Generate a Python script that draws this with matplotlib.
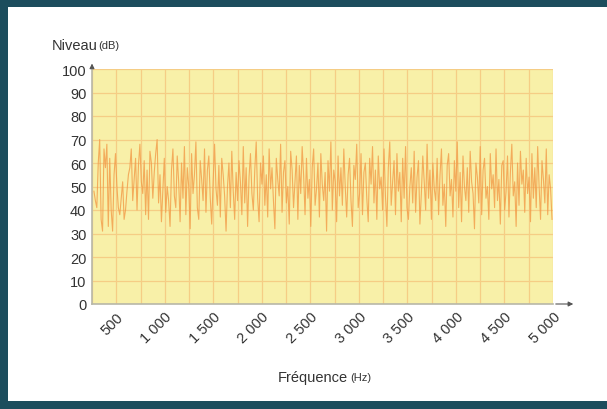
import matplotlib
matplotlib.use("Agg")
import matplotlib.pyplot as plt
import numpy as np

# levels (dB), roughly evenly spaced in frequency
niveau = [
    48, 44, 41, 60, 70, 36, 31, 66, 58, 68, 33, 62, 40, 31, 55, 64, 50, 41, 38, 45,
    52, 36, 40, 48, 55, 58, 66, 44, 53, 62, 40, 59, 68, 52, 47, 61, 38, 57, 36, 65,
    60, 45, 56, 64, 70, 43, 55, 35, 48, 62, 39, 50, 44, 33, 57, 66, 46, 41, 63, 52,
    35, 60, 45, 67, 38, 58, 50, 32, 64, 47, 55, 69, 41, 36, 61, 53, 44, 66, 39, 57,
    63, 45, 34, 52, 68, 49, 42, 59, 37, 62, 55, 46, 31, 50, 60, 41, 65, 48, 36, 56,
    44, 61, 52, 38, 67, 43, 58, 33, 54, 64, 47, 40, 57, 69, 45, 35, 60, 51, 63, 42,
    55, 37, 66, 49, 58, 44, 32, 62, 53, 46, 68, 39, 56, 61, 43, 50, 34, 65, 57, 41,
    52, 63, 36, 59, 47, 67, 55, 38, 62, 45, 53, 33, 58, 66, 42, 49, 60, 37, 64, 51,
    44, 56, 31, 61, 48, 69, 40, 57, 52, 35, 63, 46, 58, 42, 66, 50, 37, 55, 62, 44,
    33, 59, 53, 68, 41, 47, 64, 38, 56, 60, 45, 35, 62, 51, 67, 43, 57, 36, 63, 49,
    54, 40, 66, 46, 33, 58, 69, 42, 52, 61, 38, 64, 48, 56, 35, 62, 45, 67, 41, 36,
    50, 58, 43, 65, 39, 54, 61, 34, 47, 63, 52, 40, 68, 45, 57, 36, 60, 49, 44, 62,
    38, 55, 66, 42, 51, 33, 59, 64, 46, 53, 37, 61, 48, 69, 41, 56, 35, 63, 50, 44,
    58, 39, 65, 52, 47, 32, 60, 54, 43, 67, 38, 57, 62, 45, 50, 36, 64, 49, 55, 41,
    66, 44, 53, 34, 59, 61, 40, 48, 63, 37, 56, 68, 46, 52, 33, 60, 42, 65, 51, 57,
    39, 62, 47, 54, 35, 64, 45, 58, 41, 67, 50, 36, 61, 53, 43, 66, 38, 55, 49, 36,
]
freq_min, freq_max = 270, 4990
x_ticks = [500, 1000, 1500, 2000, 2500, 3000, 3500, 4000, 4500, 5000]
x_labels = ["500", "1 000", "1 500", "2 000", "2 500", "3 000", "3 500", "4 000", "4 500", "5 000"]
y_ticks = list(range(0, 101, 10))

plt.rcParams["font.family"] = ["Liberation Sans", "DejaVu Sans"]

fig = plt.figure(figsize=(6.07, 4.10), dpi=100)
fig.patch.set_facecolor("#1c4d5d")
# white card inside the dark frame
fig.patches.append(plt.Rectangle((8 / 607, 8 / 410), 1 - 8 / 607, 1 - 16 / 410,
                                 transform=fig.transFigure, facecolor="white",
                                 edgecolor="none", zorder=-10))

ax = fig.add_axes([92 / 607, 1 - 305 / 410, 461 / 607, 235 / 410])
ax.set_facecolor("#f8f0a8")

freq = np.linspace(freq_min, freq_max, len(niveau))
ax.plot(freq, niveau, color="#f29b48", lw=0.8, alpha=0.8, zorder=3)

ax.set_xlim(250, 5000)
ax.set_ylim(0, 100)
ax.set_yticks(y_ticks)
ax.set_yticklabels([str(v) for v in y_ticks], fontsize=10.5, color="#333333")
ax.set_xticks(x_ticks)
ax.set_xticklabels(x_labels, rotation=45, ha="right", rotation_mode="anchor",
                   fontsize=10.5, color="#333333")
ax.set_xticks(np.arange(250, 5001, 250), minor=True)
ax.tick_params(which="both", length=0, pad=4)
ax.grid(which="both", axis="x", color="#f5cd85", lw=0.9, zorder=1)
ax.grid(which="major", axis="y", color="#f5cd85", lw=0.9, zorder=1)
ax.set_axisbelow(True)

for s in ["top", "right"]:
    ax.spines[s].set_visible(False)
for s in ["left", "bottom"]:
    ax.spines[s].set_color("#b8b8a8")
    ax.spines[s].set_linewidth(1.2)

# axis arrows
ax.annotate("", xy=(1.05, 0), xytext=(1.0, 0), xycoords="axes fraction",
            arrowprops=dict(arrowstyle="-|>", color="#555555", lw=0.8,
                            mutation_scale=7), annotation_clip=False)
ax.annotate("", xy=(0, 1.035), xytext=(0, 1.0), xycoords="axes fraction",
            arrowprops=dict(arrowstyle="-|>", color="#555555", lw=0.8,
                            mutation_scale=7), annotation_clip=False)

fig.text(52 / 607, 1 - 46 / 410, "Niveau", fontsize=10.5, color="#333333", va="center")
fig.text(98 / 607, 1 - 46 / 410, "(dB)", fontsize=8, color="#333333", va="center")
fig.text(278 / 607, 1 - 378 / 410, "Fréquence", fontsize=10.5, color="#333333", va="center")
fig.text(350 / 607, 1 - 378 / 410, "(Hz)", fontsize=8, color="#333333", va="center")

fig.savefig("out.png", dpi=100, facecolor=fig.get_facecolor())
